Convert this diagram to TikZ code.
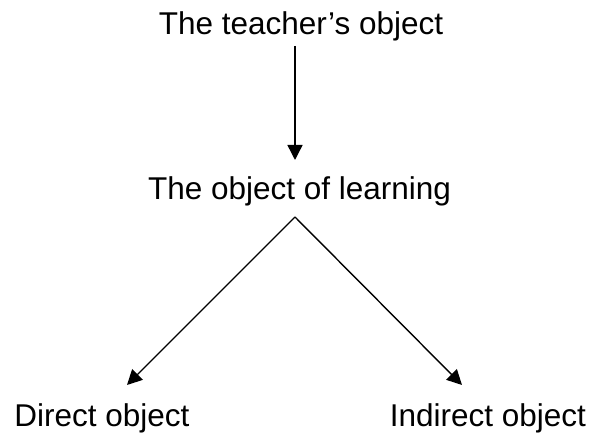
\documentclass[tikz,border=0pt]{standalone}
\usepackage{fontspec}
\setmainfont{Liberation Sans}
\usetikzlibrary{arrows.meta}
\begin{document}
\begin{tikzpicture}[x=1pt,y=-1pt,
  lbl/.style={anchor=base,inner sep=0pt,font=\fontsize{31.5}{37}\selectfont},
  conn/.style={line width=1.4pt,-{Triangle[length=15pt,width=15pt]}}]
\useasboundingbox (0,0) rectangle (590,435);
\node[lbl] (teacher) at (301,35) {The teacher’s object};
\node[lbl] (learning) at (299.5,200) {The object of learning};
\node[lbl] (direct) at (102,427) {Direct object};
\node[lbl] (indirect) at (488,427) {Indirect object};
\coordinate (top) at (295,46);
\coordinate (mid) at (295,160);
\coordinate (apex) at (295,217);
\coordinate (ltip) at (127,385);
\coordinate (rtip) at (462,385);
\draw[conn] (top) -- (mid);
\draw[conn] (apex) -- (ltip);
\draw[conn] (apex) -- (rtip);
\end{tikzpicture}
\end{document}
